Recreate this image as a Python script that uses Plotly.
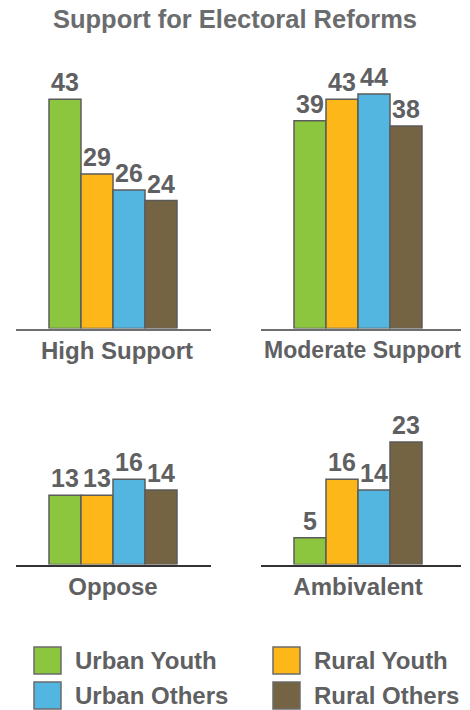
import plotly.graph_objects as go

# ---- data ----
categories = ["High Support", "Moderate Support", "Oppose", "Ambivalent"]
series_names = ["Urban Youth", "Rural Youth", "Urban Others", "Rural Others"]
urban_youth = [43, 39, 13, 5]
rural_youth = [29, 43, 13, 16]
urban_others = [26, 44, 16, 14]
rural_others = [24, 38, 14, 23]
series_values = [urban_youth, rural_youth, urban_others, rural_others]
series_colors = ["#8cc63f", "#fdb719", "#52b6e0", "#756443"]

W, H = 470, 710
TEXT = "#5f6062"
FONT = "Liberation Sans"


def px_x(p):
    return p / W


def px_y(p):
    return 1 - p / H


# panel geometry in pixels: (x0, x1, ytop, ybase, bar_left, line color, label offset, label size)
panels = [
    (16, 211, 40, 328.5, 49, "#6d6e70", 0.125, 24),
    (261, 461, 40, 328.5, 294, "#6d6e70", 0.14, 23),
    (16, 211, 380, 564.5, 49, "#333333", 0.0, 24),
    (261, 461, 380, 564.5, 294, "#333333", 0.0, 24),
]
PX_PER_UNIT_Y = 5.33
BAR_PX = 32

fig = go.Figure()
annotations = []
layout_axes = {}

for i, cat in enumerate(categories):
    n = "" if i == 0 else str(i + 1)
    x0, x1, yt, yb, bl, lc, loff, lsize = panels[i]
    vals = [s[i] for s in series_values]
    xs = list(range(len(series_names)))
    fig.add_trace(go.Bar(
        x=xs, y=vals, width=1,
        marker=dict(color=series_colors, line=dict(color="#5b5b5b", width=1.5)),
        xaxis="x" + n, yaxis="y" + n, showlegend=False, hoverinfo="skip",
    ))
    xmin = -0.5 - (bl - x0) / BAR_PX
    xmax = xmin + (x1 - x0) / BAR_PX
    layout_axes["xaxis" + n] = dict(
        domain=[px_x(x0), px_x(x1)], range=[xmin, xmax], anchor="y" + n,
        showline=True, linecolor=lc, linewidth=2, showgrid=False, zeroline=False,
        tickvals=[(len(xs) - 1) / 2 + loff], ticktext=[cat], ticks="",
        ticklabelstandoff=0,
        tickfont=dict(family=FONT, size=lsize, color=TEXT, weight="bold"),
        fixedrange=True, automargin=False,
    )
    layout_axes["yaxis" + n] = dict(
        domain=[px_y(yb), px_y(yt)], range=[0, (yb - yt) / PX_PER_UNIT_Y],
        anchor="x" + n, visible=False, fixedrange=True, automargin=False,
    )
    for j, v in enumerate(vals):
        annotations.append(dict(
            x=j, y=v, xref="x" + n, yref="y" + n, text=str(v), showarrow=False,
            yanchor="bottom", yshift=1,
            font=dict(family=FONT, size=25, color=TEXT, weight="bold"),
        ))

# legend (manual, 2x2)
legend_pos = [(34, 647), (273, 647), (34, 682), (273, 682)]
SQ = 27
shapes = []
for (lx, ly), name, col in zip(legend_pos, series_names, series_colors):
    shapes.append(dict(
        type="rect", xref="paper", yref="paper",
        x0=px_x(lx), x1=px_x(lx + SQ), y0=px_y(ly + SQ), y1=px_y(ly),
        fillcolor=col, line=dict(color="#6b6b6b", width=1.5),
    ))
    annotations.append(dict(
        x=px_x(lx + 39), y=px_y(ly + SQ / 2), xref="paper", yref="paper",
        text=name, showarrow=False, xanchor="left", yanchor="middle",
        font=dict(family=FONT, size=24, color=TEXT, weight="bold"),
    ))

fig.update_layout(
    width=W, height=H,
    margin=dict(l=0, r=0, t=0, b=0, pad=0),
    paper_bgcolor="white", plot_bgcolor="white",
    title=dict(
        text="Support for Electoral Reforms", x=0.5, xanchor="center",
        y=px_y(19), yanchor="middle",
        font=dict(family=FONT, size=25.5, color="#6b6c6e", weight="bold"),
    ),
    annotations=annotations,
    shapes=shapes,
    showlegend=False,
    bargap=0,
    **layout_axes,
)

fig.write_html(
    "out.html",
    config={"displayModeBar": False, "staticPlot": True},
    post_script="document.body.style.margin='0';document.body.style.overflow='hidden';",
)
